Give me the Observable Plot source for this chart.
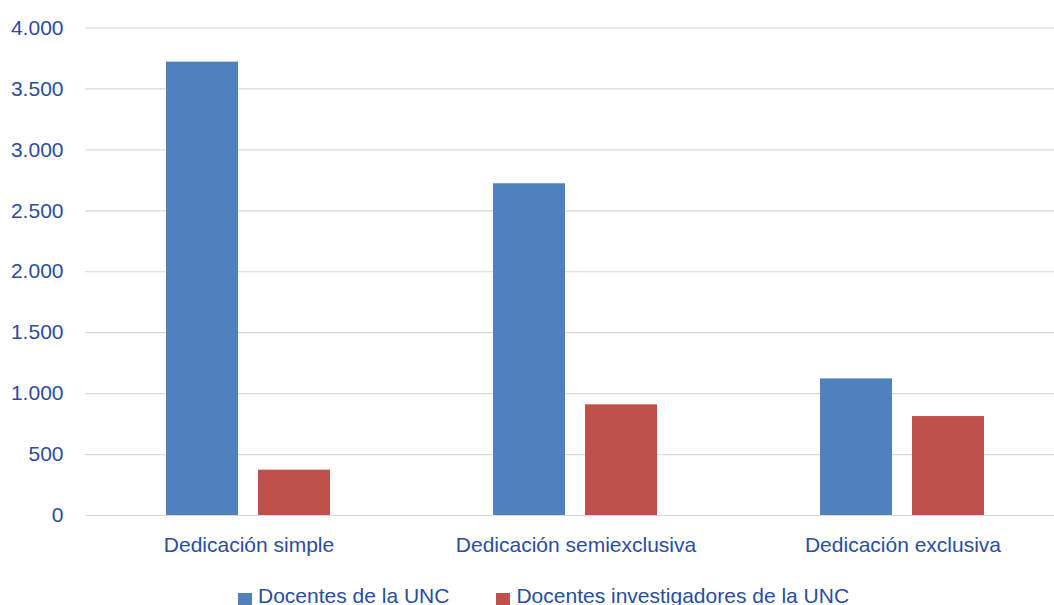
<!DOCTYPE html>
<html>
<head>
<meta charset="utf-8">
<script src="https://cdn.jsdelivr.net/npm/d3@7"></script>
<script src="https://cdn.jsdelivr.net/npm/@observablehq/plot@0.6"></script>
<style>
  html, body { margin: 0; padding: 0; background: #fff; }
  body { width: 1054px; height: 605px; overflow: hidden; font-family: "Liberation Sans", Arial, sans-serif; }
  #legend { display: flex; align-items: center; margin-left: 238px; height: 33px; padding-top: 7px; font-size: 21px; color: #2a4ea0; white-space: nowrap; }
  #legend .item { display: flex; align-items: center; margin-right: 47px; }
  #legend .sw { width: 14px; height: 12px; margin-right: 6px; margin-top: 7px; }
</style>
</head>
<body>
<div id="chart"></div>
<div id="legend"></div>
<script>
const categories = ["Dedicación simple", "Dedicación semiexclusiva", "Dedicación exclusiva"];
const seriesNames = ["Docentes de la UNC", "Docentes investigadores de la UNC"];
const docentes = [3720, 2722, 1121];
const investigadores = [372, 908, 812];
const colors = ["#4f81bd", "#c0504d"];
const yTicks = [0, 500, 1000, 1500, 2000, 2500, 3000, 3500, 4000];

const data = [];
categories.forEach((c, i) => {
  data.push({category: c, series: seriesNames[0], value: docentes[i]});
  data.push({category: c, series: seriesNames[1], value: investigadores[i]});
});

const fmt = d3.formatLocale({decimal: ",", thousands: ".", grouping: [3], currency: ["$", ""]}).format(",");
const textColor = "#2a4ea0";

const chart = Plot.plot({
  width: 1054,
  height: 572,
  marginLeft: 85,
  marginRight: -12,
  marginTop: 27.5,
  marginBottom: 57,
  style: {fontFamily: "'Liberation Sans', Arial, sans-serif", fontSize: "21px", color: textColor, background: "#fff"},
  fx: {domain: categories, paddingInner: 0, paddingOuter: 0, label: null, axis: null},
  x: {domain: seriesNames, paddingInner: 0.215, paddingOuter: 0.866, axis: null},
  y: {domain: [0, 4000], ticks: yTicks, label: null},
  color: {domain: seriesNames, range: colors},
  marks: [
    Plot.gridY(yTicks, {stroke: "#d9d9d9", strokeOpacity: 1, strokeWidth: 1.2}),
    Plot.axisY(yTicks, {tickSize: 0, tickPadding: 22, tickFormat: fmt, fill: textColor, fontSize: 21, label: null}),
    Plot.barY(data, {fx: "category", x: "series", y: "value", fill: "series"}),
    Plot.axisFx({tickSize: 0, tickPadding: 22, fill: textColor, fontSize: 21, label: null, anchor: "bottom"})
  ]
});
document.getElementById("chart").appendChild(chart);

const legend = document.getElementById("legend");
seriesNames.forEach((s, i) => {
  const item = document.createElement("div");
  item.className = "item";
  const sw = document.createElement("span");
  sw.className = "sw";
  sw.style.background = colors[i];
  const t = document.createElement("span");
  t.textContent = s;
  item.appendChild(sw);
  item.appendChild(t);
  legend.appendChild(item);
});
</script>
</body>
</html>
